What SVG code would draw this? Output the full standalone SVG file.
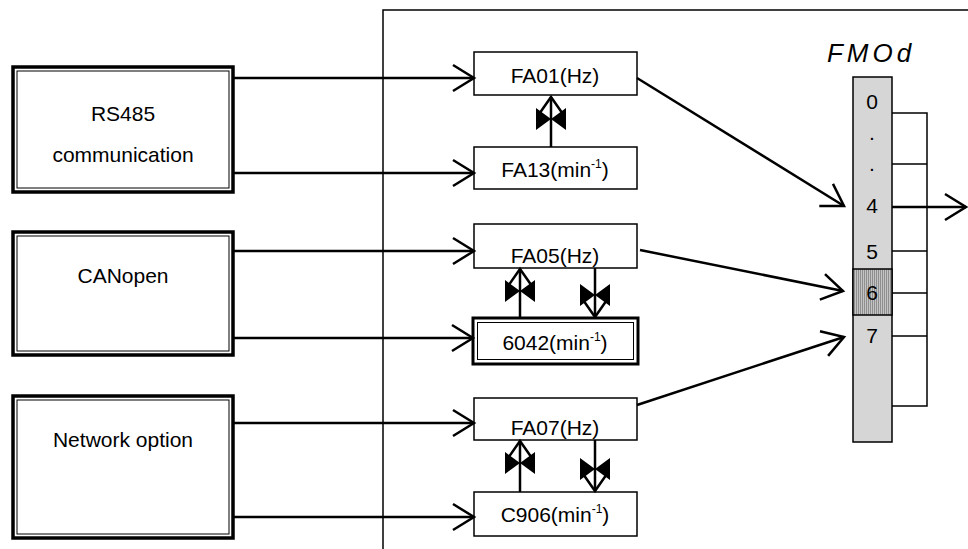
<svg xmlns="http://www.w3.org/2000/svg" width="968" height="549" viewBox="0 0 968 549">
<style>
.txt{font-family:"Liberation Sans",Arial,sans-serif;font-size:21px;fill:#000;text-anchor:middle}
.sup{font-size:12px}
.box{fill:#fff;stroke:#000;stroke-width:1.5}
.outer{fill:#fff;stroke:#000;stroke-width:3.5}
.inner{fill:none;stroke:#000;stroke-width:1}
.ln{fill:none;stroke:#000;stroke-width:2.5}
.thin{fill:none;stroke:#000;stroke-width:1.5}
</style>
<defs>
<marker id="open" markerUnits="userSpaceOnUse" orient="auto" refX="0" refY="0" markerWidth="40" markerHeight="40" viewBox="-30 -20 40 40" overflow="visible">
<path d="M-21,-13 L0,0 L-21,13" fill="none" stroke="#000" stroke-width="2.5"/>
</marker>
<marker id="dual" markerUnits="userSpaceOnUse" orient="auto" refX="0" refY="0" markerWidth="50" markerHeight="40" viewBox="-40 -20 50 40" overflow="visible">
<path d="M-20,-14 L0,0 L-20,14" fill="none" stroke="#000" stroke-width="2.5"/>
<path d="M-11,-15 L-33,-15 L-22,0 Z M-11,15 L-33,15 L-22,0 Z" fill="#000"/>
</marker>
<pattern id="stripe" width="2" height="4" patternUnits="userSpaceOnUse">
<rect width="2" height="4" fill="#c4c4c4"/>
<rect width="1" height="4" fill="#8e8e8e"/>
</pattern>
</defs>

<g id="panel">
<path d="M383,549 L383,10 L968,10" class="thin"/>
</g>

<g id="rs485">
<rect x="13" y="67" width="220" height="125" class="outer"/>
<rect x="17" y="71" width="212" height="117" class="inner"/>
<text class="txt" x="123" y="121">RS485</text>
<text class="txt" x="123" y="162">communication</text>
</g>
<g id="canopen">
<rect x="13" y="232" width="220" height="123" class="outer"/>
<rect x="17" y="236" width="212" height="115" class="inner"/>
<text class="txt" x="123" y="283">CANopen</text>
</g>
<g id="network">
<rect x="13" y="396" width="220" height="142" class="outer"/>
<rect x="17" y="400" width="212" height="134" class="inner"/>
<text class="txt" x="123" y="447">Network option</text>
</g>

<g id="fa01">
<rect x="474" y="52" width="163" height="43" class="box"/>
<text class="txt" x="555" y="83">FA01(Hz)</text>
</g>
<g id="fa13">
<rect x="474" y="147" width="163" height="42" class="box"/>
<text class="txt" x="555" y="177">FA13(min<tspan class="sup" dy="-9">-1</tspan><tspan dy="9">)</tspan></text>
</g>
<g id="fa05">
<rect x="474" y="224" width="163" height="44" class="box"/>
<text class="txt" x="555" y="263">FA05(Hz)</text>
</g>
<g id="p6042">
<rect x="473" y="318" width="165" height="46" fill="#fff" stroke="#000" stroke-width="3"/>
<rect x="477.5" y="322.5" width="156" height="37" class="inner"/>
<text class="txt" x="555" y="350">6042(min<tspan class="sup" dy="-9">-1</tspan><tspan dy="9">)</tspan></text>
</g>
<g id="fa07">
<rect x="474" y="398" width="163" height="42" class="box"/>
<text class="txt" x="555" y="435">FA07(Hz)</text>
</g>
<g id="c906">
<rect x="474" y="492" width="163" height="44" class="box"/>
<text class="txt" x="555" y="522">C906(min<tspan class="sup" dy="-9">-1</tspan><tspan dy="9">)</tspan></text>
</g>

<g id="fmod">
<text x="871" y="62" font-family="Liberation Sans, Arial, sans-serif" font-size="26" font-style="italic" letter-spacing="4" text-anchor="middle">FMOd</text>
<rect x="853" y="77" width="39" height="365" fill="#d6d6d6" stroke="#000" stroke-width="1.5"/>
<rect x="853" y="269" width="39" height="46" fill="url(#stripe)" stroke="#000" stroke-width="1.5"/>
<text class="txt" x="872" y="109">0</text>
<text class="txt" x="872" y="140">.</text>
<text class="txt" x="872" y="171">.</text>
<text class="txt" x="872" y="213">4</text>
<text class="txt" x="872" y="259">5</text>
<text class="txt" x="872" y="300">6</text>
<text class="txt" x="872" y="343">7</text>
<path d="M892,113 H927 V406 H892 M892,164 H927 M892,251 H927 M892,293 H927 M892,336 H927" class="thin"/>
</g>

<g id="connectors">
<line x1="233" y1="78" x2="474" y2="78" class="ln" marker-end="url(#open)"/>
<line x1="233" y1="173" x2="474" y2="173" class="ln" marker-end="url(#open)"/>
<line x1="233" y1="251" x2="474" y2="251" class="ln" marker-end="url(#open)"/>
<line x1="233" y1="338" x2="473" y2="338" class="ln" marker-end="url(#open)"/>
<line x1="233" y1="423" x2="474" y2="423" class="ln" marker-end="url(#open)"/>
<line x1="233" y1="517" x2="474" y2="517" class="ln" marker-end="url(#open)"/>
<line x1="551" y1="147" x2="551" y2="97" class="ln" marker-end="url(#dual)"/>
<line x1="520" y1="318" x2="520" y2="269" class="ln" marker-end="url(#dual)"/>
<line x1="595" y1="268" x2="595" y2="317" class="ln" marker-end="url(#dual)"/>
<line x1="520" y1="492" x2="520" y2="441" class="ln" marker-end="url(#dual)"/>
<line x1="595" y1="440" x2="595" y2="491" class="ln" marker-end="url(#dual)"/>
<line x1="637" y1="78" x2="844" y2="206" class="ln" marker-end="url(#open)"/>
<line x1="640" y1="250" x2="843" y2="291" class="ln" marker-end="url(#open)"/>
<line x1="637" y1="405" x2="844" y2="337" class="ln" marker-end="url(#open)"/>
<line x1="892" y1="207" x2="966" y2="207" class="ln" marker-end="url(#open)"/>
</g>
</svg>
